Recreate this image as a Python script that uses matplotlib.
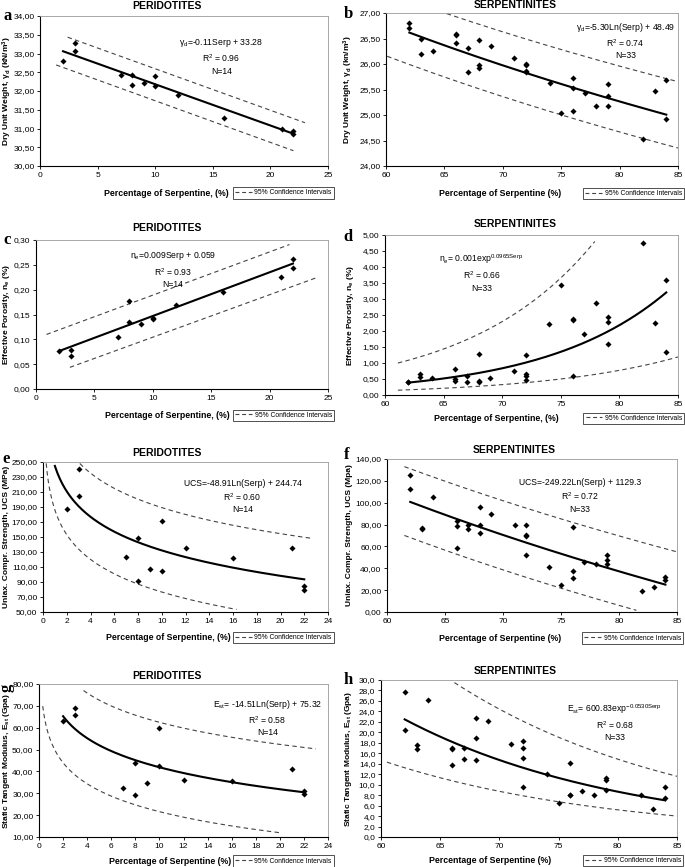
import numpy as np
import matplotlib
matplotlib.use("Agg")
import matplotlib.pyplot as plt
from matplotlib.lines import Line2D
from matplotlib.ticker import FuncFormatter, MultipleLocator

plt.rcParams['font.family'] = ['Liberation Sans', 'DejaVu Sans']
plt.rcParams['mathtext.fontset'] = 'custom'
plt.rcParams['mathtext.rm'] = 'Liberation Sans'
plt.rcParams['mathtext.bf'] = 'Liberation Sans:bold'
plt.rcParams['mathtext.default'] = 'regular'

# ---- data ----
# peridotites (N=14)
serp_per = [2, 3, 3, 7, 8, 8, 9, 10, 10, 12, 16, 21, 22, 22]
dry_per = [32.81, 33.27, 33.06, 32.44, 32.42, 32.17, 32.21, 32.41, 32.14, 31.90, 31.28, 30.98, 30.94, 30.85]
por_per = [0.076, 0.078, 0.067, 0.105, 0.178, 0.135, 0.130, 0.143, 0.140, 0.170, 0.196, 0.226, 0.262, 0.243]
ucs_per = [188, 241, 205, 123, 149, 92, 107, 172, 105, 136, 122, 135, 85, 79]
est_per = [63, 69, 66, 32.5, 44, 29, 34.5, 60, 42.5, 36, 35.5, 41, 31, 29.5]

# serpentinites (N=33)
serp_ser = [62, 62, 63, 63, 64, 66, 66, 66, 67, 67, 68, 68, 68, 69, 71, 72, 72, 72, 72,
            74, 75, 76, 76, 76, 77, 78, 79, 79, 79, 82, 83, 84, 84]
dry_ser = [26.80, 26.71, 26.49, 26.20, 26.25, 26.59, 26.57, 26.41, 26.32, 25.85, 26.47, 25.99, 25.92,
           26.35, 26.11, 26.00, 25.98, 25.86, 25.84, 25.62, 25.04, 25.73, 25.52, 25.07, 25.44, 25.17,
           25.60, 25.37, 25.17, 24.52, 25.48, 25.69, 24.93]
por_ser = [0.40, 0.42, 0.65, 0.57, 0.52, 0.82, 0.50, 0.44, 0.58, 0.40, 1.27, 0.44, 0.42, 0.53, 0.75,
           1.25, 0.67, 0.58, 0.48, 2.22, 3.44, 2.36, 2.33, 0.60, 1.91, 2.86, 2.45, 2.28, 1.60, 4.74,
           2.24, 3.60, 1.35]
ucs_ser = [125.5, 113, 76.5, 75.5, 105.5, 83.5, 79, 59, 80, 76, 96.5, 79.5, 72.5, 90, 80, 79.5, 70.5,
           70, 52, 41.5, 24.5, 77.5, 37.5, 31, 45.5, 44, 52, 48, 44, 19, 23, 32, 29]
est_ser = [27.8, 20.4, 17.5, 16.8, 26.1, 17.0, 16.9, 13.8, 17.0, 14.9, 22.8, 19.0, 14.8, 22.1, 17.7,
           18.3, 17.1, 15.1, 9.6, 12.0, 6.5, 14.1, 8.1, 8.0, 8.7, 8.0, 11.2, 10.8, 8.9, 8.0, 5.3, 9.6, 7.5]

# regression curves: (kind, a, b, x_from, x_to)
fit_a = ('lin', -0.11, 33.28, 2, 22)
fit_b = ('log', -5.30, 48.49, 62, 84)
fit_c = ('lin', 0.0088, 0.059, 2, 22)
fit_d = ('exp', 0.001, 0.0961, 62, 84)
fit_e = ('log', -48.91, 244.74, 1, 22)
fit_f = ('log', -249.22, 1129.3, 62, 84)
fit_g = ('log', -14.51, 75.32, 2, 22)
fit_h = ('exp', 600.83, -0.0530, 62, 84)

# 95% confidence bands (upper, lower)
band_a = [('lin', -0.1107, 33.70, 2.4, 23), ('lin', -0.111, 32.85, 1.4, 22)]
band_b = [('log', -5.03, 48.00, 65.2, 85), ('log', -5.19, 47.41, 60.1, 85)]
band_c = [('lin', 0.0087, 0.102, 0.9, 21.7), ('lin', 0.00855, 0.0188, 2.9, 24)]
band_d = [('exp', 0.00332, 0.0934, 61.1, 77.9), ('exp', 0.000755, 0.0866, 61.1, 85)]
band_e = [('log', -50.2, 304.8, 3.1, 22.7), ('log', -47.5, 186.0, 0.27, 16.3)]
band_f = [('log', -241.0, 1125.7, 61.5, 85), ('log', -243.3, 1072.2, 61.5, 81.5)]
band_g = [('log', -14.6, 96.1, 3.7, 23), ('log', -13.9, 53.6, 0.31, 20)]
band_h = [('exp', 789.4, -0.04965, 66.2, 85), ('exp', 332.4, -0.052, 60.5, 85)]

eq_a = "γ$_d$=-0.11Serp + 33.28\nR$^2$ = 0.96\nN=14"
eq_b = "γ$_d$=-5.30Ln(Serp) + 48.49\nR$^2$ = 0.74\nN=33"
eq_c = "n$_e$=0.009Serp + 0.059\nR$^2$ = 0.93\nN=14"
eq_d = "n$_e$= 0.001exp$^{0.0965Serp}$\nR$^2$ = 0.66\nN=33"
eq_e = "UCS=-48.91Ln(Serp) + 244.74\nR$^2$ = 0.60\nN=14"
eq_f = "UCS=-249.22Ln(Serp) + 1129.3\nR$^2$ = 0.72\nN=33"
eq_g = "E$_{st}$= -14.51Ln(Serp) + 75.32\nR$^2$ = 0.58\nN=14"
eq_h = "E$_{st}$= 600.83exp$^{-0.0530Serp}$\nR$^2$ = 0.68\nN=33"


def curve(spec, n=200):
    kind, a, b, x0, x1 = spec
    x = np.linspace(x0, x1, n)
    if kind == 'lin':
        y = a * x + b
    elif kind == 'log':
        y = a * np.log(x) + b
    else:
        y = a * np.exp(b * x)
    return x, y


W, H = 685, 867
fig = plt.figure(figsize=(W / 100, H / 100), dpi=100)

# letter, title, x, y, fit, bands, eq, xlim, xstep, ylim, ystep, ydec, ylabel, xlabel,
# axes box (l, r, t, b px), title pos, eq pos, ylabel x (px), xlabel pos
panels = [
    ('a', 'PERIDOTITES', serp_per, dry_per, fit_a, band_a, eq_a, (0, 25), 5, (30, 34), 0.5, 2,
     'Dry Unit Weight, γ$_d$ (kN/m$^3$)', 'Percentage of Serpentine, (%)',
     (40, 328, 16, 166), (167, 6), (0.63, 0.86), 7, (0.44, -0.18)),
    ('b', 'SERPENTINITES', serp_ser, dry_ser, fit_b, band_b, eq_b, (60, 85), 5, (24, 27), 0.5, 2,
     'Dry Unit Weight, γ$_d$ (kn/m$^3$)', 'Percentage of Serpentine (%)',
     (386, 678, 13, 166), (515, 5), (0.82, 0.95), 348, (0.39, -0.18)),
    ('c', 'PERIDOTITES', serp_per, por_per, fit_c, band_c, eq_c, (0, 25), 5, (0, 0.30), 0.05, 2,
     'Effective Porosity, n$_e$ (%)', 'Percentage of Serpentine, (%)',
     (36, 328, 240, 389), (167, 228), (0.47, 0.93), 7, (0.45, -0.175)),
    ('d', 'SERPENTINITES', serp_ser, por_ser, fit_d, band_d, eq_d, (60, 85), 5, (0, 5), 0.5, 2,
     'Effective Porosity, n$_e$ (%)', 'Percentage of Serpentine, (%)',
     (385, 678, 235, 395), (515, 224), (0.33, 0.89), 351, (0.38, -0.145)),
    ('e', 'PERIDOTITES', serp_per, ucs_per, fit_e, band_e, eq_e, (0, 24), 2, (50, 250), 20, 2,
     'Uniax. Compr. Strength, UCS (MPa)', 'Percentage of Serpentine, (%)',
     (43, 328, 462, 612), (167, 453), (0.70, 0.89), 7, (0.44, -0.173)),
    ('f', 'SERPENTINITES', serp_ser, ucs_ser, fit_f, band_f, eq_f, (60, 85), 5, (0, 140), 20, 2,
     'Uniax. Compr. Strength, UCS (Mpa)', 'Percentage of Serpentine (%)',
     (387, 677, 459, 612), (514, 450), (0.665, 0.875), 350, (0.39, -0.17)),
    ('g', 'PERIDOTITES', serp_per, est_per, fit_g, band_g, eq_g, (0, 24), 2, (10, 80), 10, 2,
     'Static Tangent Modulus, E$_{st}$ (Gpa)', 'Percentage of Serpentine (%)',
     (39, 328, 684, 837), (167, 676), (0.79, 0.91), 7, (0.455, -0.157)),
    ('h', 'SERPENTINITES', serp_ser, est_ser, fit_h, band_h, eq_h, (60, 85), 5, (0, 30), 2, 1,
     'Static Tangent Modulus, E$_{st}$ (Gpa)', 'Percentage of Serpentine (%)',
     (381, 677, 680, 837), (515, 671), (0.79, 0.86), 348, (0.37, -0.15)),
]

letter_pos = {'a': (8, 16), 'b': (348, 14), 'c': (7, 240), 'd': (348, 237),
              'e': (6, 459), 'f': (347, 455), 'g': (7, 688), 'h': (348, 680)}

for (letter, title, xs, ys, fit, bands, eq, xlim, xstep, ylim, ystep, ydec, ylab, xlab,
     box, tpos, epos, ylx, xlp) in panels:
    l, r, t, b = box
    ax = fig.add_axes([l / W, 1 - b / H, (r - l) / W, (b - t) / H])
    ax.set_xlim(*xlim)
    ax.set_ylim(*ylim)
    ax.xaxis.set_major_locator(MultipleLocator(xstep))
    ax.set_yticks(np.arange(ylim[0], ylim[1] + ystep / 2, ystep))
    ax.yaxis.set_major_formatter(FuncFormatter(lambda v, p, d=ydec: f"{v:.{d}f}".replace('.', ',')))
    ax.tick_params(labelsize=6, length=2.5, width=0.6, pad=1.5)
    for s in ('top', 'right'):
        ax.spines[s].set_color('#9a9a9a')
        ax.spines[s].set_linewidth(0.6)
    for s in ('left', 'bottom'):
        ax.spines[s].set_linewidth(0.8)

    for spec in bands:
        bx, by = curve(spec)
        ax.plot(bx, by, ls=(0, (4, 3)), color='#444444', lw=0.8)
    fx, fy = curve(fit)
    ax.plot(fx, fy, color='black', lw=1.5)
    ax.plot(xs, ys, 'D', color='black', ms=3.1, mew=0)

    ax.text(epos[0], epos[1], eq, transform=ax.transAxes, ha='center', va='top',
            fontsize=6.2, linespacing=1.35, multialignment='center')
    ax.set_ylabel(ylab, fontsize=6, fontweight='bold', va='center')
    ax.yaxis.set_label_coords((ylx - l) / (r - l), 0.5)
    ax.set_xlabel(xlab, fontsize=6.3, fontweight='bold', va='center')
    ax.xaxis.set_label_coords(*xlp)

    leg = ax.legend(handles=[Line2D([], [], ls=(0, (3.5, 2.5)), color='#444444', lw=0.8)],
                    labels=['95% Confidence Intervals'], loc='center right',
                    bbox_to_anchor=(1.02, xlp[1]), fontsize=4.9, frameon=True,
                    fancybox=False, handlelength=2.4, borderpad=0.3, handletextpad=0.4,
                    borderaxespad=0)
    leg.get_frame().set_edgecolor('black')
    leg.get_frame().set_linewidth(0.6)

    fig.text(tpos[0] / W, 1 - tpos[1] / H, title, ha='center', va='center',
             fontsize=7.5, fontweight='bold')
    lx, ly = letter_pos[letter]
    fig.text(lx / W, 1 - ly / H, letter, ha='center', va='center', fontsize=12,
             fontweight='bold', family=['Liberation Serif', 'DejaVu Serif'],
             rotation=90 if letter == 'g' else 0)

fig.savefig('out.png', dpi=100)
